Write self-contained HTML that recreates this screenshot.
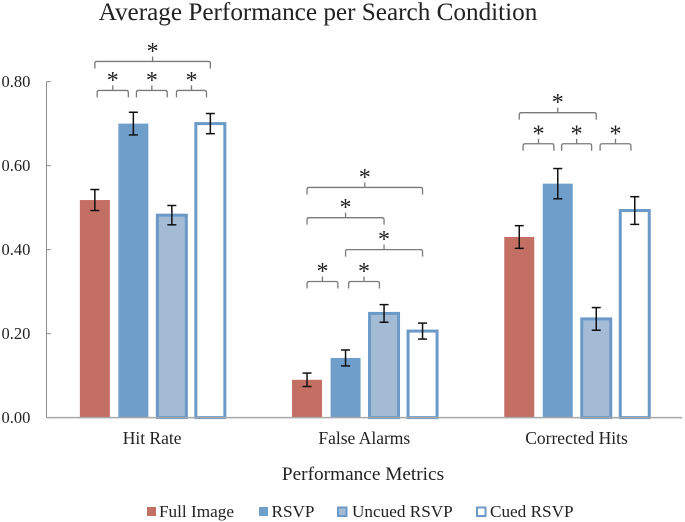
<!DOCTYPE html>
<html>
<head>
<meta charset="utf-8">
<style>
html,body{margin:0;padding:0;background:#fff;width:685px;height:522px;overflow:hidden}
svg{display:block;filter:blur(0.35px)}
text{font-family:"Liberation Serif",serif;fill:#222}
</style>
</head>
<body>
<svg id="chart" width="685" height="522" viewBox="0 0 685 522" xmlns="http://www.w3.org/2000/svg"></svg>
<script>
const categories = ['Hit Rate', 'False Alarms', 'Corrected Hits'];
const seriesNames = ['Full Image', 'RSVP', 'Uncued RSVP', 'Cued RSVP'];
const fullImage = [0.518, 0.09, 0.43];
const rsvp = [0.70, 0.142, 0.557];
const uncuedRsvp = [0.482, 0.248, 0.235];
const cuedRsvp = [0.70, 0.206, 0.493];
const fullImageErr = [0.025, 0.016, 0.027];
const rsvpErr = [0.027, 0.019, 0.036];
const uncuedRsvpErr = [0.023, 0.021, 0.027];
const cuedRsvpErr = [0.024, 0.019, 0.033];
const yTicks = [0, 0.2, 0.4, 0.6, 0.8];
// significance brackets: category, start bar slot, end bar slot, value level
const brackets = [
  [0, 0, 3, 0.848], [0, 0.06, 0.87, 0.779], [0, 1.08, 1.88, 0.779], [0, 2.12, 2.9, 0.779],
  [1, 0, 3, 0.548], [1, 0, 2, 0.476], [1, 1, 3, 0.40], [1, 0, 0.8, 0.324], [1, 1.08, 1.88, 0.324],
  [2, 0, 2, 0.726], [2, 0.1, 0.9, 0.652], [2, 1.1, 1.88, 0.652], [2, 2.1, 2.9, 0.652]
];

const values = [fullImage, rsvp, uncuedRsvp, cuedRsvp];
const errors = [fullImageErr, rsvpErr, uncuedRsvpErr, cuedRsvpErr];
const NS = 'http://www.w3.org/2000/svg';
const svg = document.getElementById('chart');
function yScale(v) { return 417.6 - v * 420; }
function catCenter(c) { return 152.6 + c * 212.2; }
function slotX(c, s) { return catCenter(c) + (s - 1.5) * 38.5; }
function add(tag, attrs, name, text) {
  const el = document.createElementNS(NS, tag);
  for (const k in attrs) el.setAttribute(k, attrs[k]);
  
  
  if (text !== undefined) el.textContent = text;
  svg.appendChild(el);
  return el;
}

add('text', {x: 318, y: 20, 'text-anchor': 'middle', 'font-size': 25.2}, 'chart-title', 'Average Performance per Search Condition');

add('line', {x1: 46.5, y1: yScale(0.8), x2: 46.5, y2: yScale(0), stroke: '#8c8c8c', 'stroke-width': 1}, 'y-axis-line');
yTicks.forEach(function (t) {
  add('line', {x1: 46.5, x2: 51, y1: yScale(t), y2: yScale(t), stroke: '#8c8c8c', 'stroke-width': 1}, 'y-axis-tick');
  add('text', {x: 1.5, y: yScale(t) + 5.5, 'font-size': 16.5}, 'y-axis-label', t.toFixed(2));
});

const solid = ['#c46f63', '#6f9ecb'];
values.forEach(function (series, s) {
  series.forEach(function (v, c) {
    const cx = slotX(c, s);
    const top = yScale(v);
    const bottom = yScale(0);
    if (s < 2) {
      add('rect', {x: cx - 15, y: top, width: 30, height: bottom - top, fill: solid[s]}, 'bar-' + seriesNames[s].toLowerCase().replace(/ /g, '-'));
    } else {
      add('rect', {x: cx - 14.5, y: top, width: 29, height: bottom - top, fill: s === 2 ? '#a3bbd5' : '#ffffff', stroke: '#6b9ac9', 'stroke-width': 3}, 'bar-' + seriesNames[s].toLowerCase().replace(/ /g, '-'));
    }
  });
});

add('line', {x1: 47, x2: 682, y1: yScale(0), y2: yScale(0), stroke: '#a8a8a8', 'stroke-width': 1.5}, 'x-axis-line');

values.forEach(function (series, s) {
  series.forEach(function (v, c) {
    const cx = slotX(c, s);
    const e = errors[s][c];
    const hi = yScale(v + e);
    const lo = yScale(v - e);
    add('line', {x1: cx, x2: cx, y1: hi, y2: lo, stroke: '#111', 'stroke-width': 1.5}, 'error-bar');
    add('line', {x1: cx - 4.5, x2: cx + 4.5, y1: hi, y2: hi, stroke: '#111', 'stroke-width': 1.5}, 'error-cap-top');
    add('line', {x1: cx - 4.5, x2: cx + 4.5, y1: lo, y2: lo, stroke: '#111', 'stroke-width': 1.5}, 'error-cap-bottom');
  });
});

brackets.forEach(function (b) {
  const x1 = slotX(b[0], b[1]);
  const x2 = slotX(b[0], b[2]);
  const y = yScale(b[3]);
  const mid = (x1 + x2) / 2;
  const d = 'M' + x1 + ' ' + (y + 7) + 'V' + (y + 2) + 'Q' + x1 + ' ' + y + ' ' + (x1 + 2) + ' ' + y +
    'H' + (x2 - 2) + 'Q' + x2 + ' ' + y + ' ' + x2 + ' ' + (y + 2) + 'V' + (y + 7) +
    'M' + mid + ' ' + y + 'V' + (y - 5);
  add('path', {d: d, fill: 'none', stroke: '#7a7a7a', 'stroke-width': 1.3}, 'significance-bracket');
  add('text', {x: mid, y: y - 2.5, 'text-anchor': 'middle', 'font-size': 24}, 'significance-star', '*');
});

categories.forEach(function (name, c) {
  add('text', {x: catCenter(c) - 0.5, y: 444, 'text-anchor': 'middle', 'font-size': 17.5}, 'category-label', name);
});
add('text', {x: 363, y: 480, 'text-anchor': 'middle', 'font-size': 19.3}, 'x-axis-title', 'Performance Metrics');

const legendSwatchX = [147, 259, 338, 477];
const legendTextX = [159, 271.5, 352, 490];
seriesNames.forEach(function (name, s) {
  if (s < 2) {
    add('rect', {x: legendSwatchX[s], y: 507, width: 9, height: 9, fill: solid[s]}, 'legend-swatch');
  } else {
    add('rect', {x: legendSwatchX[s], y: 507.5, width: 8.5, height: 8.5, fill: s === 2 ? '#a3bbd5' : '#ffffff', stroke: '#6b9ac9', 'stroke-width': 2}, 'legend-swatch');
  }
  add('text', {x: legendTextX[s], y: 517, 'font-size': 17.2}, 'legend-label', name);
});
</script>
</body>
</html>
